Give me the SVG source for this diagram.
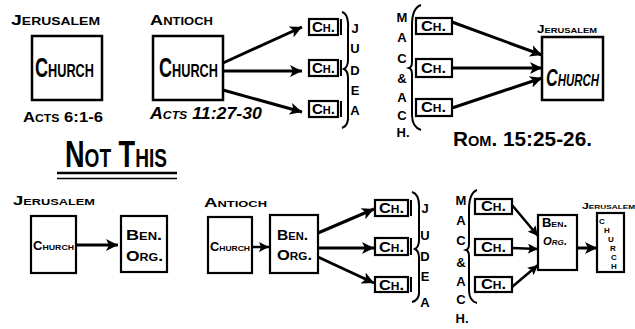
<svg xmlns="http://www.w3.org/2000/svg" width="635" height="329" viewBox="0 0 635 329">
<defs>
<style>
.t{font-family:"Liberation Sans",Arial,sans-serif;font-weight:bold;font-variant:small-caps;fill:#000}
.box{fill:#fff;stroke:#000;stroke-width:2.5}
.sm{fill:#fff;stroke:#000;stroke-width:2.2}
.br{fill:none;stroke:#000;stroke-width:2}
.ar{stroke:#000;stroke-width:3;fill:none;marker-end:url(#ah)}
.ar2{stroke:#000;stroke-width:2.5;fill:none;marker-end:url(#ah2)}
.c{text-anchor:middle}
.ch{font-size:15px}
</style>
<marker id="ah" markerUnits="userSpaceOnUse" markerWidth="14" markerHeight="12" refX="12" refY="6" orient="auto">
<path d="M0,0 L12,6 L0,12 L3,6 Z" fill="#000"/>
</marker>
<marker id="ah2" markerUnits="userSpaceOnUse" markerWidth="12" markerHeight="10" refX="10" refY="5" orient="auto">
<path d="M0,0 L10,5 L0,10 L2,5 Z" fill="#000"/>
</marker>
</defs>
<rect width="635" height="329" fill="#fff"/>

<g id="top-jerusalem">
<text class="t" x="11" y="25" font-size="14" textLength="89" lengthAdjust="spacingAndGlyphs">Jerusalem</text>
<rect class="box" x="32" y="36" width="70" height="64"/>
<text class="t" x="35" y="77" font-size="27" textLength="59" lengthAdjust="spacingAndGlyphs">Church</text>
<text class="t" x="23" y="122" font-size="15" textLength="80" lengthAdjust="spacingAndGlyphs">Acts 6:1-6</text>
</g>

<g id="top-antioch">
<text class="t" x="150" y="25" font-size="14" textLength="63" lengthAdjust="spacingAndGlyphs">Antioch</text>
<rect class="box" x="153" y="36" width="70" height="64"/>
<text class="t" x="159" y="77" font-size="27" textLength="59" lengthAdjust="spacingAndGlyphs">Church</text>
<text class="t" x="150" y="119" font-size="16" font-style="italic" textLength="112" lengthAdjust="spacingAndGlyphs">Acts 11:27-30</text>
</g>

<g id="top-judea">
<rect class="sm" x="309" y="19" width="29" height="16"/><line x1="341" y1="19" x2="341" y2="35" stroke="#000" stroke-width="2"/>
<text class="t ch" x="312" y="32" textLength="23" lengthAdjust="spacingAndGlyphs">Ch.</text>
<rect class="sm" x="309" y="60" width="29" height="16"/><line x1="341" y1="60" x2="341" y2="76" stroke="#000" stroke-width="2"/>
<text class="t ch" x="312" y="73" textLength="23" lengthAdjust="spacingAndGlyphs">Ch.</text>
<rect class="sm" x="309" y="101" width="29" height="16"/><line x1="341" y1="101" x2="341" y2="117" stroke="#000" stroke-width="2"/>
<text class="t ch" x="312" y="114" textLength="23" lengthAdjust="spacingAndGlyphs">Ch.</text>
<path class="br" d="M342,12 Q349,14 348,30 L348,60 Q348,67 344,69 Q348,71 348,78 L348,114 Q349,126 342,128"/>
<g class="t c" font-size="13">
<text x="355" y="33">J</text><text x="355" y="53">U</text><text x="355" y="75">D</text><text x="355" y="95">E</text><text x="355" y="115">A</text>
</g>
</g>

<g id="top-macedonia">
<g class="t c" font-size="13">
<text x="402" y="22">M</text><text x="402" y="42">A</text><text x="402" y="63">C</text><text x="402" y="83">&amp;</text><text x="402" y="102">A</text><text x="402" y="120">C</text><text x="403" y="137">H.</text>
</g>
<path class="br" d="M421,5 Q412,8 412,25 L412,62 Q412,67 409,68 Q412,69 412,74 L412,115 Q412,127 421,130"/>
<rect class="sm" x="416" y="18" width="36" height="16"/>
<text class="t ch" x="421" y="31" textLength="25" lengthAdjust="spacingAndGlyphs">Ch.</text>
<rect class="sm" x="416" y="59" width="36" height="18"/>
<text class="t ch" x="421" y="73" textLength="25" lengthAdjust="spacingAndGlyphs">Ch.</text>
<rect class="sm" x="416" y="99" width="36" height="17"/>
<text class="t ch" x="421" y="112" textLength="25" lengthAdjust="spacingAndGlyphs">Ch.</text>
</g>

<g id="top-jerusalem-right">
<text class="t" x="537" y="33" font-size="10" textLength="60" lengthAdjust="spacingAndGlyphs">Jerusalem</text>
<rect class="box" x="542" y="37" width="61" height="63"/>
<text class="t" x="546" y="86" font-size="24" font-style="italic" textLength="53" lengthAdjust="spacingAndGlyphs">Church</text>
<text class="t" x="453" y="146" font-size="20" textLength="139" lengthAdjust="spacingAndGlyphs">Rom. 15:25-26.</text>
</g>

<g id="not-this">
<text class="t" x="65" y="167" font-size="37" textLength="102" lengthAdjust="spacingAndGlyphs">Not This</text>
<line x1="57" y1="173" x2="177" y2="173" stroke="#000" stroke-width="2.5"/>
<line x1="57" y1="178.5" x2="177" y2="178.5" stroke="#000" stroke-width="1.5"/>
</g>

<g id="bot-jerusalem">
<text class="t" x="13" y="205" font-size="13" textLength="82" lengthAdjust="spacingAndGlyphs">Jerusalem</text>
<rect class="sm" x="31" y="216" width="45" height="57"/>
<text class="t" x="33" y="250" font-size="12" textLength="41" lengthAdjust="spacingAndGlyphs">Church</text>
<rect class="sm" x="121" y="216" width="46" height="56"/>
<text class="t" x="126" y="240" font-size="14" textLength="36" lengthAdjust="spacingAndGlyphs">Ben.</text>
<text class="t" x="126" y="261" font-size="14" textLength="37" lengthAdjust="spacingAndGlyphs">Org.</text>
</g>

<g id="bot-antioch">
<text class="t" x="204" y="207" font-size="13" textLength="63" lengthAdjust="spacingAndGlyphs">Antioch</text>
<rect class="sm" x="208" y="217" width="44" height="56"/>
<text class="t" x="210" y="251" font-size="12" textLength="40" lengthAdjust="spacingAndGlyphs">Church</text>
<rect class="sm" x="270" y="215" width="48" height="58"/>
<text class="t" x="277" y="240" font-size="14" textLength="31" lengthAdjust="spacingAndGlyphs">Ben.</text>
<text class="t" x="277" y="260" font-size="14" textLength="35" lengthAdjust="spacingAndGlyphs">Org.</text>
</g>

<g id="bot-judea">
<rect class="sm" x="375" y="200" width="33" height="16"/><line x1="411" y1="200" x2="411" y2="216" stroke="#000" stroke-width="2"/>
<text class="t ch" x="379" y="213" textLength="25" lengthAdjust="spacingAndGlyphs">Ch.</text>
<rect class="sm" x="375" y="238" width="33" height="17"/><line x1="411" y1="238" x2="411" y2="255" stroke="#000" stroke-width="2"/>
<text class="t ch" x="379" y="252" textLength="25" lengthAdjust="spacingAndGlyphs">Ch.</text>
<rect class="sm" x="375" y="277" width="33" height="15"/><line x1="411" y1="277" x2="411" y2="292" stroke="#000" stroke-width="2"/>
<text class="t ch" x="379" y="290" textLength="25" lengthAdjust="spacingAndGlyphs">Ch.</text>
<path class="br" d="M412,192 Q420,194 419,210 L419,240 Q419,247 415,249 Q419,251 419,258 L419,290 Q420,300 412,302"/>
<g class="t c" font-size="13">
<text x="425" y="213">J</text><text x="425" y="240">U</text><text x="425" y="261">D</text><text x="425" y="281">E</text><text x="425" y="307">A</text>
</g>
</g>

<g id="bot-macedonia">
<g class="t c" font-size="13">
<text x="461" y="205">M</text><text x="461" y="225">A</text><text x="461" y="245">C</text><text x="461" y="267">&amp;</text><text x="461" y="286">A</text><text x="461" y="304">C</text><text x="462" y="323">H.</text>
</g>
<path class="br" d="M477,190 Q469,193 469,210 L469,244 Q469,249 466,250 Q469,251 469,256 L469,290 Q469,301 477,303"/>
<rect class="sm" x="475" y="199" width="37" height="15"/>
<text class="t ch" x="481" y="211" textLength="25" lengthAdjust="spacingAndGlyphs">Ch.</text>
<rect class="sm" x="475" y="239" width="37" height="16"/>
<text class="t ch" x="481" y="252" textLength="25" lengthAdjust="spacingAndGlyphs">Ch.</text>
<rect class="sm" x="475" y="277" width="37" height="15"/>
<text class="t ch" x="481" y="289" textLength="25" lengthAdjust="spacingAndGlyphs">Ch.</text>
</g>

<g id="bot-benorg-right">
<rect class="sm" x="538" y="215" width="39" height="55"/>
<text class="t" x="542" y="227" font-size="12" textLength="25" lengthAdjust="spacingAndGlyphs">Ben.</text>
<text class="t" x="543" y="245" font-size="11" font-style="italic" textLength="24" lengthAdjust="spacingAndGlyphs">Org.</text>
</g>

<g id="bot-jerusalem-right">
<text class="t" x="582" y="209" font-size="9" textLength="53" lengthAdjust="spacingAndGlyphs">Jerusalem</text>
<rect class="sm" x="597" y="213" width="27" height="59"/>
<g class="t c" font-size="8">
<text x="602" y="224">C</text><text x="607" y="233">H</text><text x="611" y="242">U</text><text x="613" y="251">R</text><text x="614" y="260">C</text><text x="614" y="269">H</text>
</g>
</g>

<g id="connectors">
<line class="ar" x1="223" y1="63" x2="302" y2="27"/>
<line class="ar" x1="223" y1="71" x2="302" y2="71"/>
<line class="ar" x1="223" y1="90" x2="302" y2="112"/>
<line class="ar" x1="452" y1="22" x2="542" y2="55"/>
<line class="ar" x1="452" y1="68" x2="542" y2="68"/>
<line class="ar" x1="452" y1="108" x2="542" y2="78"/>
<line class="ar" x1="76" y1="245" x2="118" y2="245"/>
<line class="ar2" x1="252" y1="247" x2="269" y2="247"/>
<line class="ar" x1="318" y1="233" x2="374" y2="209"/>
<line class="ar" x1="318" y1="248" x2="374" y2="248"/>
<line class="ar" x1="318" y1="257" x2="374" y2="283"/>
<line class="ar2" x1="512" y1="205" x2="538" y2="236"/>
<line class="ar2" x1="512" y1="248" x2="538" y2="249"/>
<line class="ar2" x1="512" y1="287" x2="538" y2="265"/>
<line class="ar" x1="577" y1="248" x2="597" y2="248"/>
</g>
</svg>
